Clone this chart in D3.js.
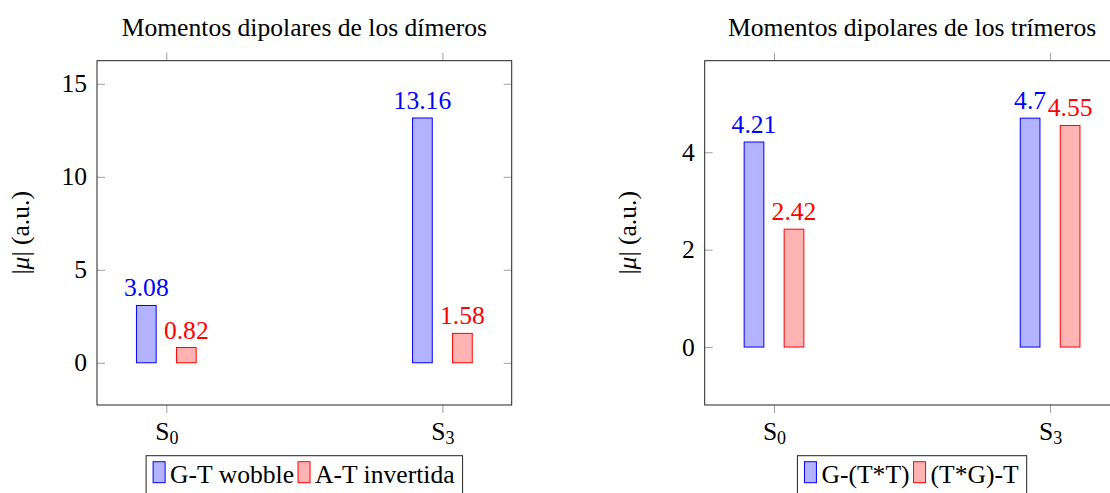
<!DOCTYPE html>
<head>
    <meta charset="utf-8">
    <script src="https://cdn.jsdelivr.net/npm/d3@7"></script>
</head>
<style>
    body { margin: 0; background: white; }
    text { font-family: "Liberation Serif", "Times New Roman", serif; }
</style>
<body>
<svg id="chart" width="1110" height="493"></svg>
</body>
<script>

    // data
    var categories = ["S0", "S3"]
    var dimerSeries = ["G-T wobble", "A-T invertida"]
    var dimerBlue = [3.08, 13.16]
    var dimerRed = [0.82, 1.58]
    var trimerSeries = ["G-(T*T)", "(T*G)-T"]
    var trimerBlue = [4.21, 4.7]
    var trimerRed = [2.42, 4.55]
    var dimerTicks = [0, 5, 10, 15]
    var trimerTicks = [0, 2, 4]

    var strokeCols = ["#0000ff", "#ff0000"]
    var fillCols = ["#b3b3ff", "#ffb3b3"]
    var fontSize = 25.6

    var svg = d3.select("#chart")

    function drawPanel(opt) {
        var left = opt.left, top = 60.7, w = 414.7, h = 344.3
        var g = svg.append("g")

        var y = d3.scaleLinear().domain(opt.yDomain).range([top + h, top])
        var x = d3.scalePoint().domain(categories).range([left + 69.3, left + w - 69.3])
        var off = d3.scalePoint().domain([0, 1]).range([-20, 20])
        var barW = 19.7

        // ticks y (inside, left + right)
        g.append("g")
            .attr("transform", "translate(" + left + ",0)")
            .call(d3.axisLeft(y).tickValues(opt.ticks).tickSize(-8).tickPadding(10).tickFormat(d3.format("d")))
            .call(a => a.select(".domain").remove())
            .call(a => a.selectAll("line").attr("stroke", "#a0a0a0"))
            .call(a => a.selectAll("text").style("font-size", fontSize + "px").attr("fill", "black"))
        g.append("g")
            .attr("transform", "translate(" + (left + w) + ",0)")
            .call(d3.axisRight(y).tickValues(opt.ticks).tickSize(-8).tickFormat(""))
            .call(a => a.select(".domain").remove())
            .call(a => a.selectAll("line").attr("stroke", "#a0a0a0"))

        // ticks x (outside, bottom + top)
        g.append("g")
            .attr("transform", "translate(0," + (top + h) + ")")
            .call(d3.axisBottom(x).tickSize(8).tickPadding(9))
            .call(a => a.select(".domain").remove())
            .call(a => a.selectAll("line").attr("stroke", "#a0a0a0"))
            .call(a => a.selectAll(".tick text")
                .text(null)
                .style("font-size", fontSize + "px")
                .attr("fill", "black")
                .attr("dy", "0.71em")
                .each(function(d) {
                    var t = d3.select(this)
                    t.append("tspan").text(d.charAt(0))
                    t.append("tspan").attr("dy", 4).style("font-size", "18px").text(d.slice(1))
                }))
        g.append("g")
            .attr("transform", "translate(0," + top + ")")
            .call(d3.axisTop(x).tickSize(8).tickFormat(""))
            .call(a => a.select(".domain").remove())
            .call(a => a.selectAll("line").attr("stroke", "#a0a0a0"))

        // bars
        var series = [opt.blue, opt.red]
        series.forEach(function(vals, s) {
            g.selectAll(".bar" + s)
                .data(vals)
                .enter()
                .append("rect")
                .attr("x", (d, i) => x(categories[i]) + off(s) - barW / 2)
                .attr("y", d => y(d))
                .attr("width", barW)
                .attr("height", d => y(0) - y(d))
                .attr("fill", fillCols[s])
                .attr("stroke", strokeCols[s])
                .attr("stroke-width", 1)
            g.selectAll(".lab" + s)
                .data(vals)
                .enter()
                .append("text")
                .attr("x", (d, i) => x(categories[i]) + off(s))
                .attr("y", d => y(d) - 9)
                .attr("text-anchor", "middle")
                .attr("fill", strokeCols[s])
                .style("font-size", fontSize + "px")
                .text(d => d)
        })

        // box
        g.append("rect")
            .attr("x", left).attr("y", top).attr("width", w).attr("height", h)
            .attr("fill", "none").attr("stroke", "#222").attr("stroke-width", 1)

        // title
        g.append("text")
            .attr("x", left + w / 2).attr("y", 36)
            .attr("text-anchor", "middle")
            .style("font-size", fontSize + "px")
            .text(opt.title)

        // y label
        var yl = g.append("text")
            .attr("transform", "translate(" + opt.ylabX + "," + (top + h / 2) + ") rotate(-90)")
            .attr("text-anchor", "middle")
            .style("font-size", fontSize + "px")
        yl.append("tspan").text("|")
        yl.append("tspan").style("font-style", "italic").text("μ")
        yl.append("tspan").text("| (a.u.)")

        // legend
        var leg = g.append("g")
        var frame = leg.append("rect")
        var cx = 7
        opt.names.forEach(function(n, s) {
            leg.append("rect")
                .attr("x", cx).attr("y", 6).attr("width", 12).attr("height", 21)
                .attr("fill", fillCols[s]).attr("stroke", strokeCols[s])
            var t = leg.append("text")
                .attr("x", cx + 17).attr("y", 27.5)
                .style("font-size", fontSize + "px")
                .text(n)
            cx += 17 + t.node().getComputedTextLength() + 4
        })
        var lw = cx + 4
        frame.attr("x", 0).attr("y", 0).attr("width", lw).attr("height", 45)
            .attr("fill", "white").attr("stroke", "#222")
        leg.attr("transform", "translate(" + (left + w / 2 - lw / 2) + ",455.7)")
    }

    drawPanel({
        left: 97, yDomain: [-2.27, 16.24], ticks: dimerTicks,
        blue: dimerBlue, red: dimerRed, names: dimerSeries,
        title: "Momentos dipolares de los dímeros", ylabX: 29
    })
    drawPanel({
        left: 704.7, yDomain: [-1.19, 5.88], ticks: trimerTicks,
        blue: trimerBlue, red: trimerRed, names: trimerSeries,
        title: "Momentos dipolares de los trímeros", ylabX: 636
    })

</script>
</html>
